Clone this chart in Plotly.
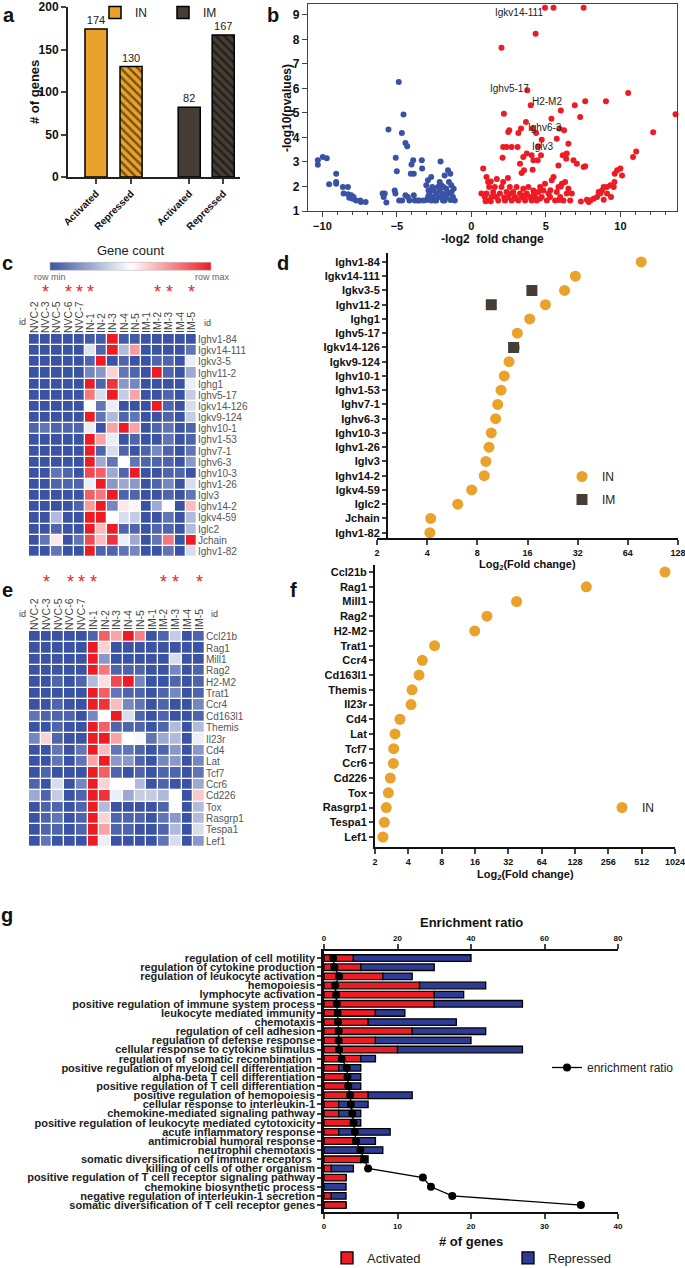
import math
import plotly.graph_objects as go

W, H = 685, 1268
def X(p0, p1): return [p0 / W, p1 / W]
def Y(top, bot): return [1 - bot / H, 1 - top / H]
def px(x): return x / W
def py(y): return 1 - y / H

FONT = "Liberation Sans, Arial, sans-serif"
ORANGE = "#E9A22B"
DARK = "#463D35"
HM_BLUE = "#3A53A4"
HM_RED = "#ED1C24"
G_RED = "#ED1C24"
G_BLUE = "#2E3B94"

# ---------------- panel a data
a_ticklabels = ["Activated", "Repressed", "Activated", "Repressed"]
a_IN = [174, 130]
a_IM = [82, 167]

# ---------------- panel b data (volcano): (-log2 FC, -log10 p)
b_blue = [(-10.31, 3.07), (-10.31, 2.89), (-9.98, 3.2), (-9.71, 3.15), (-9.55, 2.09), (-9.08, 2.52),
          (-9.08, 2.18), (-9.08, 2.11), (-8.63, 1.98), (-8.58, 1.71), (-8.29, 1.98), (-8.27, 1.68),
          (-8.2, 1.54), (-8.07, 1.64), (-7.98, 1.5), (-7.91, 1.57), (-7.75, 1.43), (-7.46, 1.43),
          (-7.42, 1.37), (-7.1, 1.37),
          (-5.57, 4.32), (-5.96, 1.71), (-5.89, 1.57), (-5.82, 1.71), (-5.71, 1.35), (-5.08, 3.17),
          (-5.01, 2.62), (-5.15, 1.84), (-5.1, 1.71), (-4.88, 6.26), (-4.56, 4.93), (-4.67, 4.18),
          (-4.43, 3.77), (-4.31, 3.64), (-4.85, 1.43), (-4.65, 1.43), (-4.43, 1.64), (-4.27, 1.57),
          (-4.16, 1.43), (-4.07, 2.52), (-4.02, 2.9), (-3.91, 3.07), (-3.87, 2.52), (-3.87, 1.64),
          (-3.8, 1.43), (-3.62, 1.43), (-3.48, 1.43), (-3.33, 3.07), (-3.31, 2.73), (-3.21, 1.43),
          (-3.03, 2.05), (-2.92, 2.25), (-2.88, 1.84), (-2.81, 1.71), (-2.7, 2.39), (-2.63, 1.98),
          (-2.81, 1.57), (-2.7, 1.43), (-2.58, 1.57), (-2.47, 1.43), (-2.36, 1.71), (-2.25, 1.98),
          (-2.13, 2.18), (-2.07, 3.02), (-2.13, 1.84), (-2.02, 2.05), (-1.96, 1.71), (-1.91, 1.43),
          (-1.8, 2.45), (-1.87, 1.98), (-1.69, 1.91), (-1.57, 2.66), (-1.51, 2.18), (-1.46, 1.71),
          (-1.42, 2.52), (-1.35, 2.05), (-1.33, 1.77), (-1.24, 1.57), (-1.12, 1.43), (-1.19, 1.91),
          (-1.69, 1.57), (-1.8, 1.43), (-2.2, 1.57), (-2.36, 1.43), (-2.9, 1.6), (-3.0, 1.45),
          (-2.55, 1.85), (-1.4, 1.45), (-1.6, 1.75), (-2.0, 1.55)]
b_red = [(4.94, 9.29), (5.51, 9.29), (7.53, 9.29), (4.31, 8.23), (2.02, 7.66), (3.75, 5.92),
         (3.98, 5.31), (2.18, 4.97), (3.66, 4.63), (5.37, 4.76), (6.0, 5.1), (6.94, 5.31), (7.64, 5.47),
         (7.3, 4.83), (9.03, 5.47), (10.52, 5.81), (13.7, 4.94), (12.2, 4.21), (11.06, 3.43), (10.85, 3.2),
         (4.34, 4.18), (2.54, 4.29), (2.47, 4.22), (3.33, 4.36), (3.15, 4.18), (4.11, 4.36), (5.73, 3.95),
         (4.72, 3.91), (6.22, 4.29), (5.91, 4.36), (6.51, 3.74), (2.13, 3.61), (2.36, 3.61), (2.7, 3.61),
         (3.1, 3.61), (4.49, 3.64), (2.09, 3.17), (3.26, 2.93), (3.48, 3.2), (3.71, 3.34), (4.04, 3.27),
         (4.16, 3.07), (4.67, 3.27), (4.45, 3.07), (3.37, 2.55), (3.53, 2.66), (4.11, 2.68), (5.84, 2.86),
         (6.13, 3.27), (6.4, 3.34), (6.36, 3.13), (6.85, 3.07), (7.08, 2.93), (7.53, 2.79), (7.64, 2.82),
         (9.62, 2.52), (9.78, 2.66), (10.0, 2.73), (10.11, 2.45), (9.6, 2.18), (9.55, 1.98), (9.33, 2.05),
         (9.1, 1.98), (8.88, 1.98), (8.76, 1.84), (8.65, 1.71), (8.54, 1.77), (8.43, 1.57), (8.2, 1.5),
         (7.98, 1.43), (7.87, 1.37), (7.75, 1.46), (7.35, 1.39), (8.88, 1.46), (9.1, 1.71), (9.37, 1.57),
         (0.79, 2.73), (1.01, 2.39), (1.12, 2.18), (1.19, 1.98), (1.01, 1.71), (1.12, 1.43), (1.35, 1.57),
         (1.46, 1.77), (1.57, 1.98), (1.69, 1.57), (1.8, 1.43), (1.91, 1.71), (2.02, 1.98), (2.13, 2.18),
         (2.25, 1.43), (2.36, 1.77), (2.47, 1.57), (2.58, 1.98), (2.7, 1.43), (2.81, 1.77), (2.92, 1.57),
         (3.03, 1.98), (3.15, 1.43), (3.26, 1.71), (3.37, 1.57), (3.48, 1.91), (3.6, 1.43), (3.71, 1.71),
         (3.82, 1.98), (3.93, 1.57), (4.04, 1.43), (4.16, 1.84), (4.27, 1.57), (4.38, 1.43), (4.49, 1.77),
         (4.61, 1.98), (4.72, 1.57), (4.83, 1.84), (4.94, 2.11), (5.06, 1.43), (5.17, 1.71), (5.28, 1.57),
         (5.39, 2.25), (5.51, 2.39), (5.62, 1.43), (5.73, 1.77), (5.84, 1.98), (5.96, 1.57), (6.07, 2.11),
         (6.18, 1.43), (6.29, 2.18), (6.4, 1.71), (6.51, 1.91), (6.63, 1.43), (6.74, 1.71), (0.67, 1.71),
         (0.9, 1.57), (0.95, 1.4), (1.3, 1.4), (1.55, 1.6), (2.2, 1.55), (2.6, 1.7), (3.0, 1.5),
         (3.55, 1.62), (4.2, 1.72), (4.6, 1.5), (5.3, 1.85), (5.9, 1.45), (6.0, 2.0), (1.7, 2.3),
         (2.45, 2.35), (1.3, 2.2)]
b_labels = ["Igkv14-111", "Ighv5-17", "H2-M2", "Ighv6-3", "Iglv3"]
b_label_x = [3.2, 2.54, 5.06, 4.94, 4.83]
b_label_y = [9.1, 5.99, 5.48, 4.42, 3.61]

# ---------------- heatmap columns
hm_cols = ["NVC-2", "NVC-3", "NVC-5", "NVC-6", "NVC-7", "IN-1", "IN-2", "IN-3", "IN-4", "IN-5",
           "IM-1", "IM-2", "IM-3", "IM-4", "IM-5"]
hm_star_cols = ["NVC-3", "NVC-6", "NVC-7", "IN-1", "IM-2", "IM-3", "IM-5"]

# ---------------- panel c data
c_genes = ["Ighv1-84", "Igkv14-111", "Igkv3-5", "Ighv11-2", "Ighg1", "Ighv5-17", "Igkv14-126",
           "Igkv9-124", "Ighv10-1", "Ighv1-53", "Ighv7-1", "Ighv6-3", "Ighv10-3", "Ighv1-26",
           "Iglv3", "Ighv14-2", "Igkv4-59", "Iglc2", "Jchain", "Ighv1-82"]
c_values = [
    [0, 0, 0, 0, 0, 0.02, 0.02, 1, 0.02, 0.02, 0, 0, 0, 0, 0],
    [0, 0, 0, 0, 0, 0.42, 0.05, 1, 0.3, 0.72, 0, 0, 0, 0, 0.1],
    [0, 0, 0, 0, 0, 0.05, 1, 0, 0.05, 0, 0, 0.05, 0.05, 0, 0.45],
    [0, 0, 0, 0, 0, 0.15, 0.2, 0.6, 0.1, 0.05, 0, 1, 0.05, 0, 0.25],
    [0, 0, 0, 0, 0, 1, 0.05, 0.95, 0.2, 0.15, 0, 0, 0, 0, 0.45],
    [0, 0, 0, 0, 0, 0.8, 0.4, 1, 0.35, 0.7, 0, 0, 0.05, 0, 0.35],
    [0, 0, 0, 0, 0, 0.5, 0.1, 0.45, 0, 0, 0, 1, 0.05, 0, 0.4],
    [0, 0, 0, 0, 0, 1, 0.1, 0.3, 0.05, 0.1, 0, 0, 0.05, 0, 0.35],
    [0.05, 0.1, 0.05, 0.05, 0.05, 0.45, 0, 0.7, 1, 0.7, 0, 0.05, 0.1, 0, 0.05],
    [0, 0, 0, 0, 0, 1, 0.7, 0.45, 0, 0.05, 0, 0, 0.1, 0, 0.05],
    [0, 0, 0, 0, 0, 1, 0.05, 0.4, 0.05, 0, 0.05, 0.15, 0.05, 0, 0.1],
    [0, 0, 0, 0, 0, 1, 0.25, 0.1, 0.5, 0.1, 0.05, 0.05, 0.05, 0, 0.2],
    [0, 0, 0.1, 0.05, 0, 0.9, 0.85, 0.25, 0.05, 1, 0, 0, 0.05, 0.05, 0],
    [0, 0, 0.05, 0.05, 0.05, 0.45, 1, 0.2, 0.25, 0.2, 0, 0.05, 0.15, 0, 0.4],
    [0, 0, 0, 0, 0, 0.85, 0.8, 1, 0.05, 0.05, 0, 0, 0.05, 0, 0.1],
    [0, 0, 0, 0, 0.05, 0.72, 1, 0.15, 0.55, 0.52, 0, 0.25, 0.5, 0, 0.65],
    [0, 0, 0.3, 0, 0, 1, 1, 0.5, 0.4, 0.35, 0, 0, 0.1, 0, 0.3],
    [0, 0, 0.05, 0, 0, 1, 0.65, 1, 0.05, 0.05, 0, 0.05, 0.05, 0, 0.3],
    [0, 0.1, 0.55, 0, 0.1, 0.9, 0.65, 0.95, 0.45, 0.25, 0, 0.1, 0.8, 0, 1],
    [0, 0, 0.1, 0, 0, 1, 0.05, 0.05, 0.1, 0.15, 0, 0, 0.1, 0, 0.4],
]

# ---------------- panel d data
d_genes = c_genes
d_IN = [77, 31, 26.7, 20.5, 16.5, 13.9, 13.4, 12.4, 11.6, 11.1, 10.6, 10.3, 9.7, 9.4, 9.0, 8.8,
        7.4, 6.1, 4.2, 4.15]
d_IM_genes = ["Igkv3-5", "Ighv11-2", "Igkv14-126"]
d_IM = [17.0, 9.7, 13.2]

# ---------------- panel e data
e_genes = ["Ccl21b", "Rag1", "Mill1", "Rag2", "H2-M2", "Trat1", "Ccr4", "Cd163l1", "Themis", "Il23r",
           "Cd4", "Lat", "Tcf7", "Ccr6", "Cd226", "Tox", "Rasgrp1", "Tespa1", "Lef1"]
e_values = [
    [0, 0, 0, 0, 0, 0.05, 0.85, 0.7, 1, 0.78, 0, 0.05, 0.35, 0, 0.05],
    [0, 0, 0, 0, 0, 1, 0.6, 0, 0, 0, 0, 0, 0, 0, 0],
    [0, 0, 0, 0, 0, 1, 0.2, 0, 0, 0, 0, 0, 0.4, 0, 0],
    [0, 0, 0, 0, 0, 1, 0.8, 0.05, 0.05, 0.05, 0, 0, 0.15, 0, 0.05],
    [0, 0, 0.05, 0, 0.05, 0.3, 0.57, 0.9, 1, 0.15, 0, 0, 0.05, 0, 0.05],
    [0, 0, 0, 0, 0, 1, 0.85, 0.1, 0.05, 0.05, 0, 0.05, 0.15, 0, 0.05],
    [0, 0, 0.05, 0, 0, 1, 0.95, 0.65, 0.15, 0.1, 0, 0.05, 0, 0, 0.15],
    [0.1, 0.05, 0.05, 0.05, 0, 0.15, 0.5, 1, 0.4, 0.05, 0, 0.05, 0, 0, 0.05],
    [0, 0, 0.05, 0, 0, 1, 0.85, 0.05, 0.05, 0.05, 0, 0.05, 0.3, 0, 0.3],
    [0.15, 0.6, 0.05, 0, 0, 1, 1, 0.7, 0.5, 0.48, 0.1, 0.25, 0.3, 0, 0.45],
    [0, 0, 0.1, 0, 0.1, 1, 0.65, 0.1, 0.1, 0.05, 0, 0.05, 0.2, 0, 0.2],
    [0, 0, 0.1, 0, 0.1, 0.7, 1, 0.2, 0.2, 0.05, 0, 0.15, 0.2, 0, 0.15],
    [0, 0.05, 0, 0, 0, 1, 0.85, 0.05, 0, 0.05, 0, 0.05, 0.05, 0, 0.1],
    [0.05, 0, 0.4, 0, 0.15, 1, 0.6, 0.5, 0.5, 0.3, 0, 0.05, 0, 0, 0.25],
    [0.25, 0.05, 0.35, 0, 0.05, 1, 0.95, 0.45, 0.25, 0.35, 0.35, 0.3, 0.5, 0, 0.62],
    [0, 0.05, 0.05, 0, 0.05, 1, 0.3, 0, 0, 0, 0, 0.05, 0.5, 0, 0.3],
    [0, 0.05, 0.1, 0, 0.05, 1, 0.6, 0.05, 0.05, 0.05, 0, 0.1, 0.2, 0, 0.3],
    [0, 0.05, 0.05, 0, 0.05, 1, 0.7, 0.05, 0.05, 0, 0, 0.05, 0.3, 0, 0.4],
    [0, 0.1, 0, 0, 0, 1, 0.45, 0, 0, 0, 0, 0.1, 0.4, 0, 0.2],
]

# ---------------- panel f data
f_genes = e_genes
f_IN = [832, 162, 38, 20.5, 15.9, 6.9, 5.35, 5.0, 4.32, 4.23, 3.36, 3.03, 2.95, 2.93, 2.75, 2.64,
        2.53, 2.43, 2.36]

# ---------------- panel g data
g_terms = ["regulation of cell motility", "regulation of cytokine production",
           "regulation of leukocyte activation", "hemopoiesis", "lymphocyte activation",
           "positive regulation of immune system process", "leukocyte mediated immunity", "chemotaxis",
           "regulation of cell adhesion", "regulation of defense response",
           "cellular response to cytokine stimulus", "regulation of  somatic recombination ",
           "positive regulation of myeloid cell differentiation", "alpha-beta T cell differentiation",
           "positive regulation of T cell differentiation", "positive regulation of hemopoiesis",
           "cellular response to interleukin-1", "chemokine-mediated signaling pathway",
           "positive regulation of leukocyte mediated cytotoxicity", "acute inflammatory response",
           "antimicrobial humoral response", "neutrophil chemotaxis",
           "somatic diversification of immune receptors ", "killing of cells of other organism",
           "positive regulation of T cell receptor signaling pathway", "chemokine biosynthetic process",
           "negative regulation of interleukin-1 secretion",
           "somatic diversification of T cell receptor genes"]
g_activated = [4, 5, 8, 13, 15, 15, 7, 6, 12, 7, 10, 5, 2, 3, 3, 6, 2, 2, 4, 2, 4, 0, 5, 1, 3, 0, 1, 3]
g_repressed = [16, 10, 4, 9, 4, 12, 4, 12, 10, 13, 17, 2, 3, 2, 2, 6, 4, 3, 1, 7, 3, 8, 1, 3, 0, 3, 2, 0]
g_enrichment = [2.5, 2.8, 4.1, 3.0, 3.3, 3.5, 3.7, 3.8, 4.0, 4.0, 4.1, 4.8, 6.2, 6.4, 6.6, 7.1, 7.3,
                7.7, 8.0, 8.4, 8.7, 9.9, 10.9, 12.0, 26.9, 29.1, 34.9, 69.9]

fig = go.Figure()

# ================= panel a
pat = dict(shape=["", "\\"], fgcolor="black", size=6, solidity=0.4)
fig.add_trace(go.Bar(x=[0, 1], y=a_IN, name="IN", width=0.63,
                     marker=dict(color=ORANGE, line=dict(color="black", width=1.5), pattern=pat),
                     text=a_IN, textposition="outside", cliponaxis=False,
                     textfont=dict(family=FONT, size=11, color="#222"),
                     xaxis="x", yaxis="y", legend="legend"))
fig.add_trace(go.Bar(x=[2.66, 3.63], y=a_IM, name="IM", width=0.63,
                     marker=dict(color=DARK, line=dict(color="black", width=1.5), pattern=pat),
                     text=a_IM, textposition="outside", cliponaxis=False,
                     textfont=dict(family=FONT, size=11, color="#222"),
                     xaxis="x", yaxis="y", legend="legend"))

# ================= panel b
fig.add_trace(go.Scatter(x=[p[0] for p in b_blue], y=[p[1] for p in b_blue], mode="markers",
                         marker=dict(color="#3953A4", size=6), showlegend=False,
                         xaxis="x2", yaxis="y2", cliponaxis=False))
fig.add_trace(go.Scatter(x=[p[0] for p in b_red], y=[p[1] for p in b_red], mode="markers",
                         marker=dict(color="#ED1C24", size=6), showlegend=False,
                         xaxis="x2", yaxis="y2", cliponaxis=False))

# ================= heatmaps
cscale = [[0, HM_BLUE], [0.5, "#FFFFFF"], [1, HM_RED]]
fig.add_trace(go.Heatmap(z=c_values, x=hm_cols, y=c_genes, colorscale=cscale, zmin=0, zmax=1,
                         xgap=1.3, ygap=1.3, xaxis="x3", yaxis="y3",
                         colorbar=dict(orientation="h", x=px(130.5), xanchor="center",
                                       y=py(259), yanchor="middle", len=181, lenmode="pixels",
                                       thickness=8, showticklabels=False, ticks="",
                                       outlinewidth=0.6, outlinecolor="#bbb",
                                       title=dict(text="Gene count", side="top",
                                                  font=dict(family=FONT, size=13, color="#222")))))
fig.add_trace(go.Heatmap(z=e_values, x=hm_cols, y=e_genes, colorscale=cscale, zmin=0, zmax=1,
                         xgap=1.3, ygap=1.3, xaxis="x5", yaxis="y5", showscale=False))

# ================= panel d
fig.add_trace(go.Scatter(x=d_IN, y=d_genes, mode="markers", name="IN",
                         marker=dict(color=ORANGE, size=11, symbol="circle"),
                         xaxis="x4", yaxis="y4", legend="legend2", legendgroup="dIN", cliponaxis=False))
fig.add_trace(go.Scatter(x=d_IM, y=d_IM_genes, mode="markers", name="IM",
                         marker=dict(color=DARK, size=11, symbol="square"),
                         xaxis="x4", yaxis="y4", legend="legend2", legendgroup="dIM", cliponaxis=False))

# ================= panel f
fig.add_trace(go.Scatter(x=f_IN, y=f_genes, mode="markers", name="IN",
                         marker=dict(color=ORANGE, size=11, symbol="circle"),
                         xaxis="x6", yaxis="y6", legend="legend3", cliponaxis=False))

# ================= panel g
fig.add_trace(go.Bar(x=g_activated, y=g_terms, orientation="h", name="Activated", width=0.72,
                     marker=dict(color=G_RED, line=dict(color="black", width=1.3)),
                     xaxis="x7", yaxis="y7", legend="legend5"))
fig.add_trace(go.Bar(x=g_repressed, y=g_terms, base=g_activated, orientation="h", name="Repressed",
                     width=0.72, marker=dict(color=G_BLUE, line=dict(color="black", width=1.3)),
                     xaxis="x7", yaxis="y7", legend="legend5"))
fig.add_trace(go.Scatter(x=g_enrichment, y=g_terms, mode="lines+markers", name="enrichment ratio",
                         line=dict(color="black", width=1.3), marker=dict(color="black", size=8),
                         xaxis="x8", yaxis="y7", legend="legend4", cliponaxis=False))

# ================= axes
bold = dict(family=FONT, color="#111", weight="bold")
def tf(size, **kw):
    d = dict(bold); d["size"] = size; d.update(kw); return d

common = dict(showgrid=False, zeroline=False, automargin=False, ticklabeloverflow="allow")

lay = dict(
    width=W, height=H, margin=dict(l=0, r=0, t=0, b=0, autoexpand=False),
    paper_bgcolor="white", plot_bgcolor="white", barmode="overlay",
    font=dict(family=FONT, size=11, color="#222"),
    # panel a
    xaxis=dict(domain=X(68, 240), range=[-0.8, 4.11], tickvals=[0, 1, 2.66, 3.63],
               ticktext=a_ticklabels, tickangle=-45, tickfont=tf(10), showline=True,
               linecolor="#222", linewidth=2, ticks="outside", ticklen=5, tickwidth=1.5,
               anchor="y", **common),
    yaxis=dict(domain=Y(7, 177), range=[0, 200], tickvals=[0, 50, 100, 150, 200],
               tickfont=tf(12), showline=True, linecolor="#222", linewidth=2, ticks="outside",
               ticklen=5, tickwidth=1.5, anchor="x", **common),
    # panel b
    xaxis2=dict(domain=X(308, 677), range=[-10.97, 13.8], tickvals=[-10, -5, 0, 5, 10],
                tickfont=tf(11), showline=True, linecolor="#444", linewidth=1.2, mirror=True,
                ticks="outside", ticklen=5, minor=dict(dtick=1, ticks="outside", ticklen=3,
                                                       tickcolor="#444"),
                anchor="y2", **common),
    yaxis2=dict(domain=Y(4, 211), range=[1, 9.44], dtick=1, tickfont=tf(12), showline=True,
                linecolor="#444", linewidth=1.2, mirror=True, ticks="outside", ticklen=5,
                anchor="x2", **common),
    # panel c heatmap
    xaxis3=dict(domain=X(29, 197), side="top", tickangle=-90, tickmode="array",
                tickvals=hm_cols, ticktext=hm_cols,
                tickfont=dict(family=FONT, size=10.5, color="#444"), ticks="", anchor="y3", **common),
    yaxis3=dict(domain=Y(334, 557), side="right", autorange="reversed", tickmode="array",
                tickvals=c_genes, ticktext=c_genes,
                tickfont=dict(family=FONT, size=10, color="#555"), ticks="", anchor="x3", **common),
    # panel d
    xaxis4=dict(domain=X(377, 678), type="log", range=[math.log10(2), math.log10(128)],
                tickvals=[2, 4, 8, 16, 32, 64, 128], ticktext=["2", "4", "8", "16", "32", "64", "128"],
                tickfont=tf(9), showline=True, linecolor="#111", linewidth=2, ticks="outside",
                ticklen=5, tickwidth=1.5, anchor="y4", **common),
    yaxis4=dict(domain=Y(253, 538), range=[19.37, -0.63], tickfont=tf(11), showline=True,
                tickmode="array", tickvals=d_genes, ticktext=d_genes,
                linecolor="#111", linewidth=2, ticks="outside", ticklen=4, tickwidth=1.5,
                anchor="free", position=px(387), **common),
    # panel e heatmap
    xaxis5=dict(domain=X(29, 205), side="top", tickangle=-90, tickmode="array",
                tickvals=hm_cols, ticktext=hm_cols,
                tickfont=dict(family=FONT, size=10.5, color="#444"), ticks="", anchor="y5", **common),
    yaxis5=dict(domain=Y(631, 847), side="right", autorange="reversed", tickmode="array",
                tickvals=e_genes, ticktext=e_genes,
                tickfont=dict(family=FONT, size=10, color="#555"), ticks="", anchor="x5", **common),
    # panel f
    xaxis6=dict(domain=X(375, 675), type="log", range=[math.log10(2), math.log10(1024)],
                tickvals=[2, 4, 8, 16, 32, 64, 128, 256, 512, 1024],
                ticktext=["2", "4", "8", "16", "32", "64", "128", "256", "512", "1024"],
                tickfont=tf(9), showline=True, linecolor="#111", linewidth=2, ticks="outside",
                ticklen=5, tickwidth=1.5, anchor="y6", **common),
    yaxis6=dict(domain=Y(565, 847), range=[18.68, -0.48], tickfont=tf(11), showline=True,
                tickmode="array", tickvals=f_genes, ticktext=f_genes,
                linecolor="#111", linewidth=2, ticks="outside", ticklen=4, tickwidth=1.5,
                anchor="x6", **common),
    # panel g
    xaxis7=dict(domain=X(324, 618), range=[0, 40], tickvals=[0, 10, 20, 30, 40], tickfont=tf(8),
                showline=True, linecolor="#111", linewidth=2, ticks="outside", ticklen=5,
                tickwidth=2, anchor="y7", **common),
    xaxis8=dict(overlaying="x7", side="top", range=[0, 80], tickvals=[0, 20, 40, 60, 80],
                tickfont=tf(8), showline=True, linecolor="#111", linewidth=2, ticks="outside",
                ticklen=5, tickwidth=2, anchor="y7", **common),
    yaxis7=dict(domain=Y(951, 1212), range=[27.76, -0.77], tickfont=tf(11, color="#222"),
                tickmode="array", tickvals=g_terms, ticktext=g_terms,
                showline=True, linecolor="#111", linewidth=2.5, ticks="outside", ticklen=4,
                tickwidth=1.5, anchor="x7", **common),
    # legends
    legend=dict(x=px(95), y=py(-2), xanchor="left", yanchor="top", orientation="h",
                entrywidth=23, entrywidthmode="pixels", font=dict(family=FONT, size=12, color="#222"),
                bgcolor="rgba(0,0,0,0)", itemwidth=30),
    legend2=dict(x=px(562), y=py(462), xanchor="left", yanchor="top", tracegroupgap=4,
                 font=dict(family=FONT, size=12, color="#222"), bgcolor="rgba(0,0,0,0)"),
    legend3=dict(x=px(602), y=py(793), xanchor="left", yanchor="top",
                 font=dict(family=FONT, size=12, color="#222"), bgcolor="rgba(0,0,0,0)"),
    legend4=dict(x=px(547), y=py(1053), xanchor="left", yanchor="top",
                 font=dict(family=FONT, size=12, color="#222"), bgcolor="rgba(0,0,0,0)"),
    legend5=dict(x=px(327), y=py(1243), xanchor="left", yanchor="top", orientation="h",
                 entrywidth=136, entrywidthmode="pixels", traceorder="normal",
                 font=dict(family=FONT, size=13, color="#222"), bgcolor="rgba(0,0,0,0)"),
)
fig.update_layout(**lay)

ann = []
def A(text, x, y, size=11, color="#111", weight="normal", xanchor="center", yanchor="middle",
      textangle=0, xref="paper", yref="paper"):
    ann.append(dict(text=text, x=x, y=y, xref=xref, yref=yref, showarrow=False,
                    xanchor=xanchor, yanchor=yanchor, textangle=textangle,
                    font=dict(family=FONT, size=size, color=color, weight=weight)))

# panel letters
for t, xx, yy in [("a", 9, 15), ("b", 273, 15), ("c", 8, 263), ("d", 283, 263),
                  ("e", 8, 590), ("f", 293, 590), ("g", 7, 915)]:
    A(t, px(xx), py(yy), size=20, color="#111", weight="bold")

# axis titles
A("# of genes", px(35), py(92), size=13, weight="bold", textangle=-90)
A("-log10(pvalues)", px(287), py(108), size=12, weight="bold", textangle=-90)
A("-log2  fold change", px(492), py(239), size=12, weight="bold")
A("Log<sub>2</sub>(Fold change)", px(527), py(565), size=11, weight="bold")
A("Log<sub>2</sub>(Fold change)", px(525), py(875), size=11, weight="bold")
A("Enrichment ratio", px(471), py(922), size=13, weight="bold")
A("# of genes", px(471), py(1241), size=13, weight="bold")

# volcano labels
for t, xx, yy in zip(b_labels, b_label_x, b_label_y):
    A(t, xx, yy, size=10, color="#222", xref="x2", yref="y2")

# heatmap extras
A("row min", px(50), py(277), size=9, color="#666")
A("row max", px(212), py(277), size=9, color="#666")
A("id", px(22), py(322), size=9, color="#444")
A("id", px(207), py(323), size=9, color="#444")
A("id", px(22), py(614), size=9, color="#444")
A("id", px(214), py(614), size=9, color="#444")
for col in hm_star_cols:
    A("*", col, py(292), size=18, color="#ED1C24", xref="x3")
    A("*", col, py(582), size=18, color="#ED1C24", xref="x5")

fig.update_layout(annotations=ann)
fig.write_html("out.html", config={"displayModeBar": False},
               post_script="document.body.style.margin='0px';document.body.style.overflow='hidden';")
